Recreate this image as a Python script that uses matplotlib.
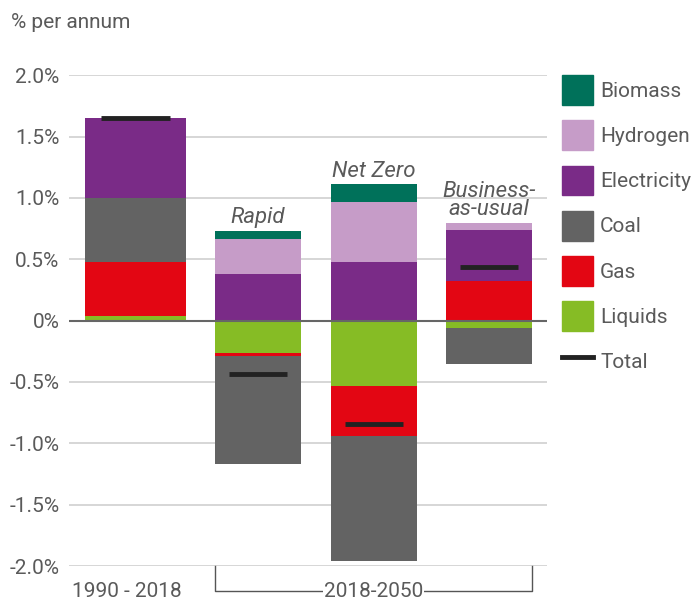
import matplotlib
matplotlib.use("Agg")
import matplotlib.pyplot as plt
from matplotlib.patches import Patch
from matplotlib.lines import Line2D
from matplotlib.ticker import FuncFormatter

plt.rcParams["font.family"] = ["Roboto", "DejaVu Sans"]

# ====== Data: % per annum change by fuel ======
periods = ["1990 - 2018", "Rapid", "Net Zero", "Business-\nas-usual"]
liquids = [0.04, -0.265, -0.53, -0.06]
gas = [0.44, -0.025, -0.41, 0.32]
coal = [0.52, -0.88, -1.02, -0.29]
electricity = [0.65, 0.38, 0.48, 0.417]
hydrogen = [0.0, 0.285, 0.49, 0.058]
biomass = [0.0, 0.065, 0.14, 0.0]
total = [1.65, -0.435, -0.845, 0.44]

series = [
    ("Liquids", liquids, "#86bc25"),
    ("Gas", gas, "#e30613"),
    ("Coal", coal, "#636363"),
    ("Electricity", electricity, "#7a2b87"),
    ("Hydrogen", hydrogen, "#c69cc8"),
    ("Biomass", biomass, "#00715a"),
]

# ====== Layout ======
xpos = [0.665, 1.89, 3.05, 4.20]
widths = [1.01, 0.86, 0.86, 0.86]
text_col = "#5a5a5a"
fs = 15

fig = plt.figure(figsize=(6.97, 5.99), dpi=100)
ax = fig.add_axes([69 / 697, 1 - 566 / 599, 478 / 697, (566 - 75.3) / 599])

pos_base = [0.0] * 4
neg_base = [0.0] * 4
for name, vals, col in series:
    bottoms = []
    for i, v in enumerate(vals):
        if v >= 0:
            bottoms.append(pos_base[i])
            pos_base[i] += v
        else:
            bottoms.append(neg_base[i])
            neg_base[i] += v
    ax.bar(xpos, vals, width=widths, bottom=bottoms, color=col, zorder=2)

# totals
for x, w, t in zip(xpos, widths, total):
    ax.hlines(t, x - w * 0.34, x + w * 0.34, color="#222222", lw=3.5, zorder=3)

# scenario labels above bars (white box hides grid, stays under the bars)
for i in range(1, 4):
    ax.annotate(periods[i], (xpos[i], pos_base[i]), xytext=(0, 2),
                textcoords="offset points", ha="center", va="bottom",
                fontsize=16, style="italic", color=text_col,
                linespacing=0.85, zorder=1.5,
                bbox=dict(boxstyle="square,pad=0.15", fc="white", ec="none"))

ax.set_xlim(0, 4.78)
ax.set_ylim(-2.0, 2.0)
ax.set_yticks([2.0, 1.5, 1.0, 0.5, 0.0, -0.5, -1.0, -1.5, -2.0])
ax.yaxis.set_major_formatter(FuncFormatter(lambda v, p: "0%" if v == 0 else f"{v:.1f}%"))
ax.tick_params(axis="y", length=0, pad=7, labelsize=fs, labelcolor=text_col)
ax.set_xticks([])
ax.grid(axis="y", color="#d6d6d6", lw=1.4, zorder=0)
ax.axhline(0, color="#666666", lw=1.5, zorder=3)
for s in ax.spines.values():
    s.set_visible(False)

# bottom labels and bracket
trans = ax.get_xaxis_transform()
ax.text(0.58, -0.051, periods[0], transform=trans, ha="center", va="center",
        fontsize=fs, color=text_col)
left = xpos[1] - widths[1] / 2
right = xpos[3] + widths[3] / 2
ax.plot([left, left, right, right], [0, -0.051, -0.051, 0], transform=trans,
        color="#555555", lw=1.0, clip_on=False)
ax.text((left + right) / 2, -0.051, "2018-2050", transform=trans, ha="center",
        va="center", fontsize=fs, color=text_col,
        bbox=dict(boxstyle="square,pad=0.05", fc="white", ec="none"))

fig.text(11 / 697, 1 - 22 / 599, "% per annum", ha="left", va="center",
         fontsize=fs, color=text_col)

# legend
handles = [Patch(color=col, label=name) for name, _, col in reversed(series)]
handles.append(Line2D([], [], color="#222222", lw=3.5, label="Total"))
leg = fig.legend(handles=handles, loc="upper left",
                 bbox_to_anchor=(562 / 697, 1 - 75 / 599), frameon=False,
                 borderpad=0, borderaxespad=0, handlelength=1.5, handleheight=1.82,
                 labelspacing=0.745, handletextpad=0.33, fontsize=fs)
for t in leg.get_texts():
    t.set_color(text_col)

fig.savefig("out.png", dpi=100)
